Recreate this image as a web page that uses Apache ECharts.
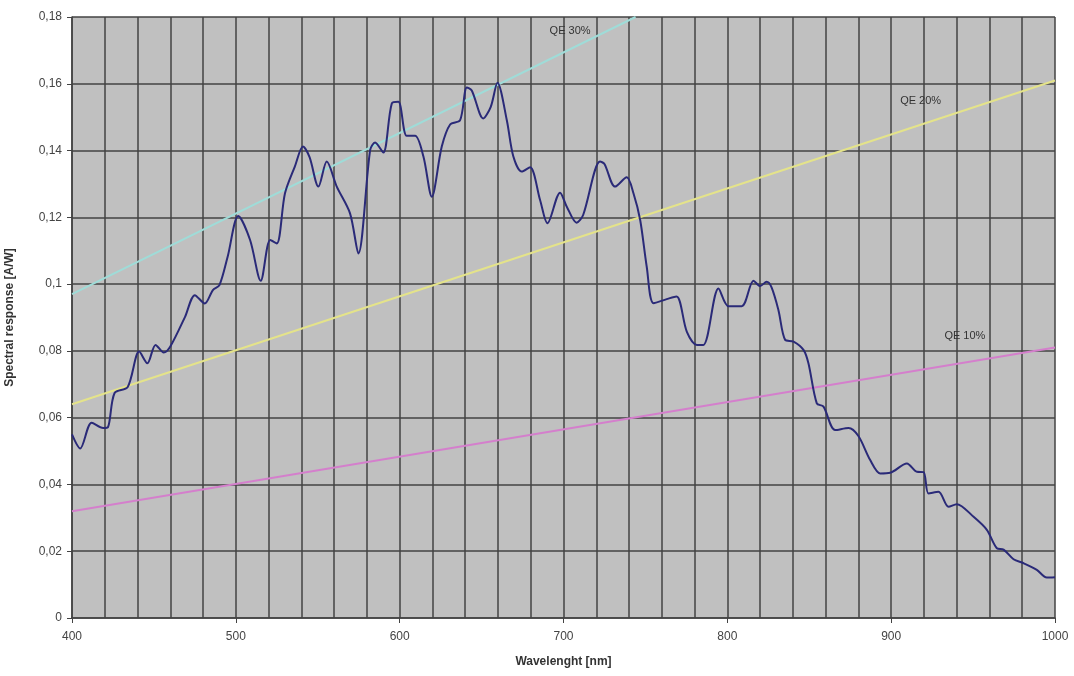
<!DOCTYPE html>
<html>
<head>
<meta charset="utf-8">
<script src="https://cdn.jsdelivr.net/npm/echarts@6/dist/echarts.min.js"></script>
<style>
  html, body { margin: 0; padding: 0; background: #fff; }
  #chart { width: 1074px; height: 676px; }
</style>
</head>
<body>
<div id="chart"></div>
<script>
// spectral response curve
const wavelength = [400, 405, 412, 419, 422, 426, 434, 441, 446, 451, 456, 460, 469, 475, 481, 486, 490, 495, 501.5, 508.7,
  515.2, 521, 525, 530, 536, 541, 545, 550.4, 555.5, 561.6, 569.7, 574.8, 582, 585, 590, 595.2, 599.2, 604.3, 609.4, 614.5,
  619.6, 625.7, 630.8, 636.9, 641, 644, 651, 655.6, 659.7, 665.4, 669.4, 674.5, 679.6, 685.7, 690.2, 697.9, 702, 708, 712, 722.3,
  725, 731.5, 738.6, 742.7, 746.8, 750.8, 755, 763, 769, 775.3, 781.4, 785.4, 794.6, 800.7, 808.8, 816, 820, 824, 827, 831.2,
  835.3, 840.4, 846.5, 849.5, 854.6, 858.7, 865.8, 874, 880, 887.2, 893.3, 899.4, 909.6, 915.7, 919.8, 922.8, 928.9, 935, 940, 950.3,
  958.4, 964.5, 968.6, 974.7, 980.8, 988.9, 995, 1000];
const response = [0.055, 0.0508, 0.0585, 0.0569, 0.0572, 0.0674, 0.0692, 0.0798, 0.0763, 0.0818, 0.0795, 0.0813, 0.0902, 0.0967, 0.0942, 0.0982, 0.0997, 0.1082, 0.1204, 0.1132,
  0.101, 0.1132, 0.1122, 0.1272, 0.1352, 0.1412, 0.138, 0.1292, 0.1367, 0.1292, 0.1212, 0.1092, 0.1402, 0.1424, 0.1394, 0.1541, 0.1546, 0.1444, 0.1444, 0.1382,
  0.1262, 0.1412, 0.1478, 0.1491, 0.1589, 0.158, 0.1496, 0.1531, 0.1603, 0.1491, 0.1382, 0.1337, 0.135, 0.1252, 0.1182, 0.1274, 0.1232, 0.1184, 0.1207, 0.1367,
  0.136, 0.1292, 0.132, 0.1272, 0.1192, 0.1052, 0.0943, 0.0955, 0.0963, 0.0857, 0.0818, 0.0818, 0.0987, 0.0934, 0.0934, 0.101, 0.0994, 0.1007, 0.099, 0.0922,
  0.0833, 0.0828, 0.0803, 0.0763, 0.0643, 0.0633, 0.0563, 0.0569, 0.0545, 0.0473, 0.0433, 0.0435, 0.0463, 0.0438, 0.0437, 0.0373, 0.0378, 0.0333, 0.0341, 0.0303,
  0.0264, 0.0209, 0.0205, 0.0176, 0.0164, 0.0144, 0.0121, 0.0122];

// constant quantum efficiency reference lines (end points)
const qe30 = [[400, 0.097], [744, 0.18]];
const qe20 = [[400, 0.064], [1000, 0.161]];
const qe10 = [[400, 0.032], [1000, 0.081]];

// where the QE labels sit
const qeLabels = [
  { text: 'QE 30%', at: [704, 0.1758] },
  { text: 'QE 20%', at: [918, 0.1548] },
  { text: 'QE 10%', at: [945, 0.0845] }
];

const chart = echarts.init(document.getElementById('chart'));

const gridLine = { color: '#434343', width: 1.5 };
const labelText = { fontFamily: 'Liberation Sans', fontSize: 12, color: '#444' };

function qeSeries(points, color, label) {
  return {
    type: 'line',
    data: points,
    symbol: 'none',
    silent: true,
    lineStyle: { color: color, width: 2 },
    markPoint: {
      symbol: 'circle',
      symbolSize: 0,
      data: [{ coord: label.at }],
      label: {
        show: true,
        formatter: label.text,
        fontFamily: 'Liberation Sans',
        fontSize: 11,
        color: '#333'
      }
    },
    z: 2
  };
}

chart.setOption({
  animation: false,
  backgroundColor: '#fff',
  grid: {
    left: 72, right: 19, top: 17, bottom: 58,
    outerBoundsMode: 'none', containLabel: false,
    show: true, backgroundColor: '#c0c0c0', borderWidth: 0
  },
  xAxis: {
    type: 'value',
    min: 400, max: 1000, interval: 100,
    name: 'Wavelenght [nm]',
    nameLocation: 'middle',
    nameGap: 38,
    nameTextStyle: { fontFamily: 'Liberation Sans', fontSize: 12, fontWeight: 'bold', color: '#333' },
    axisLine: { lineStyle: { color: '#434343', width: 1.5 } },
    axisTick: { show: true, length: 5, lineStyle: { color: '#434343' } },
    axisLabel: Object.assign({ margin: 13, formatter: v => String(v) }, labelText),
    splitLine: { show: true, lineStyle: gridLine },
    minorTick: { show: false, splitNumber: 5 },
    minorSplitLine: { show: true, lineStyle: gridLine }
  },
  yAxis: {
    type: 'value',
    min: 0, max: 0.18, interval: 0.02,
    name: 'Spectral response [A/W]',
    nameLocation: 'middle',
    nameGap: 56,
    nameTextStyle: { fontFamily: 'Liberation Sans', fontSize: 12, fontWeight: 'bold', color: '#333' },
    axisLine: { show: true, lineStyle: { color: '#434343', width: 1.5 } },
    axisTick: { show: true, length: 5, lineStyle: { color: '#434343' } },
    axisLabel: Object.assign({
      margin: 10,
      formatter: v => String(+v.toFixed(2)).replace('.', ',')
    }, labelText),
    splitLine: { show: true, lineStyle: gridLine }
  },
  series: [
    qeSeries(qe30, '#9fdcd8', qeLabels[0]),
    qeSeries(qe20, '#e4e38a', qeLabels[1]),
    qeSeries(qe10, '#d47fcc', qeLabels[2]),
    {
      type: 'line',
      data: wavelength.map((w, i) => [w, response[i]]),
      symbol: 'none',
      smooth: 0.3,
      lineStyle: { color: '#2a2a78', width: 2 },
      z: 3
    }
  ]
});
</script>
</body>
</html>
